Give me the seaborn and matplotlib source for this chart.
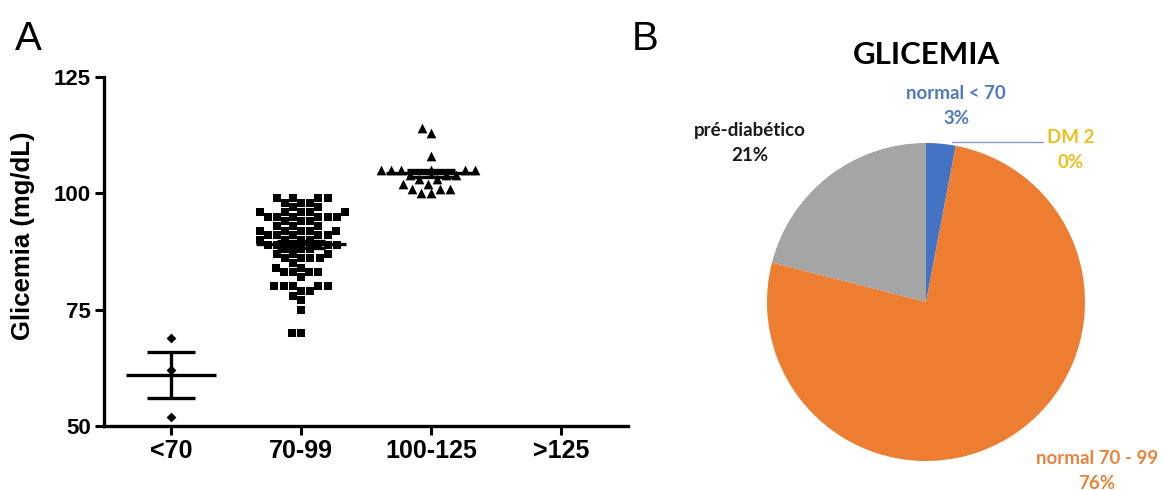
import numpy as np
import pandas as pd
import matplotlib
matplotlib.use("Agg")
import matplotlib.pyplot as plt
import seaborn as sns

# ---------------- data ----------------
categories = ["<70", "70-99", "100-125", ">125"]

glic_lt70 = [69, 62, 52]
glic_70_99 = ([99] * 4 + [98] * 3 + [97] * 2 + [96] * 5 + [95] * 6 + [94] * 3 +
              [93] * 3 + [92] * 5 + [91] * 5 + [90] * 4 + [89] * 6 + [88] * 3 +
              [87] * 3 + [86] * 4 + [85] * 1 + [84] * 2 + [83] * 4 + [82] * 1 +
              [80] * 5 + [79] * 2 + [78] * 1 + [77] * 1 + [75] * 1 + [70] * 2)
glic_100_125 = ([114, 113, 108] + [105] * 6 + [104] * 3 + [103] * 2 + [102] * 2 +
                [101] * 3 + [100] * 2)
glic_gt125 = []

group_values = [glic_lt70, glic_70_99, glic_100_125, glic_gt125]
group_markers = ["D", "s", "^", "o"]
group_sizes = [5.0, 6.4, 7.0, 6.0]

y_ticks = [50, 75, 100, 125]

pie_labels = ["normal < 70", "normal 70 - 99", "pré-diabético", "DM 2"]
pie_values = [3, 76, 21, 0]
pie_colors = ["#4472C4", "#ED7D31", "#A5A5A5", "#FFC000"]
pie_text_colors = ["#4F79C2", "#E9843F", "#1A1A1A", "#F2BE1E"]
pie_title = "GLICEMIA"

# ---------------- style ----------------
sns.set_style("ticks")
plt.rcParams["font.family"] = ["Liberation Sans", "DejaVu Sans"]
plt.rcParams["text.color"] = "black"
plt.rcParams["axes.labelcolor"] = "black"
plt.rcParams["xtick.color"] = "black"
plt.rcParams["ytick.color"] = "black"

W, H = 1163, 490
fig = plt.figure(figsize=(W / 100, H / 100), dpi=100)
fig.patch.set_facecolor("white")

# ---------------- panel A ----------------
axL, axR, axT, axB = 104, 628, 77, 426
ax = fig.add_axes([axL / W, 1 - axB / H, (axR - axL) / W, (axB - axT) / H])

rows = []
for cat, vals in zip(categories, group_values):
    for v in vals:
        rows.append({"group": cat, "value": v})
df = pd.DataFrame(rows)

for cat, mk, sz in zip(categories, group_markers, group_sizes):
    sub = df[df["group"] == cat]
    if len(sub) == 0:
        continue
    sns.swarmplot(data=sub, x="group", y="value", order=categories, ax=ax,
                  color="black", marker=mk, size=sz, linewidth=0, warn_thresh=1.0)

# mean and SEM lines
for i, vals in enumerate(group_values):
    if len(vals) == 0:
        continue
    arr = np.asarray(vals, dtype=float)
    m = arr.mean()
    sem = arr.std(ddof=1) / np.sqrt(len(arr)) if len(arr) > 1 else 0.0
    ax.hlines(m, i - 0.345, i + 0.345, color="black", lw=2.4, zorder=5)
    ax.vlines(i, m - sem, m + sem, color="black", lw=2.4, zorder=5)
    ax.hlines([m - sem, m + sem], i - 0.185, i + 0.185, color="black", lw=2.4, zorder=5)

ax.set_xlim(-0.515, 3.515)
ax.set_ylim(50, 125)
ax.set_xticks(range(len(categories)))
ax.set_xticklabels(categories)
ax.set_yticks(y_ticks)
ax.set_xlabel("")
ax.set_ylabel("")
sns.despine(ax=ax)
for sp in ["left", "bottom"]:
    ax.spines[sp].set_linewidth(2.4)
    ax.spines[sp].set_color("black")
ax.tick_params(axis="both", direction="out", length=6.5, width=2.2,
               color="black", labelcolor="black")
ax.tick_params(axis="x", labelsize=18, pad=3)
ax.tick_params(axis="y", labelsize=16, pad=3)
for lab in ax.get_xticklabels() + ax.get_yticklabels():
    lab.set_fontweight("bold")
    lab.set_color("black")
ax.patch.set_alpha(0)

fig.text(23 / W, 1 - 236 / H, "Glicemia (mg/dL)", rotation=90, ha="center",
         va="center", fontsize=18.5, fontweight="bold", color="black")
fig.text(28 / W, 1 - 39 / H, "A", ha="center", va="center", fontsize=29, color="black")
fig.text(645 / W, 1 - 39 / H, "B", ha="center", va="center", fontsize=29, color="black")

# ---------------- panel B ----------------
cx, cy, R = 926, 302, 159
axp = fig.add_axes([(cx - R) / W, 1 - (cy + R) / H, 2 * R / W, 2 * R / H])
axp.pie(pie_values, colors=pie_colors, startangle=90, counterclock=False,
        radius=1.0, wedgeprops=dict(linewidth=0))
axp.set_xlim(-1, 1)
axp.set_ylim(-1, 1)
axp.set_aspect("equal")
axp.axis("off")


def to_data(xp, yp):
    return (xp - cx) / R, (cy - yp) / R


total = sum(pie_values)
pct = [f"{round(100 * v / total):d}%" for v in pie_values]
label_pos = [(956, 106), (1097, 471), (750, 143), (1071, 150)]
pie_font = ["Lato", "DejaVu Sans"]
for lab, p, (xp, yp), col in zip(pie_labels, pct, label_pos, pie_text_colors):
    x, y = to_data(xp, yp)
    axp.text(x, y, f"{lab}\n{p}", ha="center", va="center", fontsize=13.5,
             fontweight="bold", color=col, linespacing=1.55, clip_on=False,
             family=pie_font)

# leader line for the 0% slice
x0, y0 = to_data(952, 142)
x1, y1 = to_data(1043, 142)
axp.plot([x0, x1], [y0, y1], color="#8E9CC0", lw=1.0, clip_on=False)

fig.text(927 / W, 1 - 55 / H, pie_title, ha="center", va="center",
         fontsize=22.5, fontweight="bold", family=pie_font, color="black")

fig.savefig("out.png", dpi=100, facecolor="white")
